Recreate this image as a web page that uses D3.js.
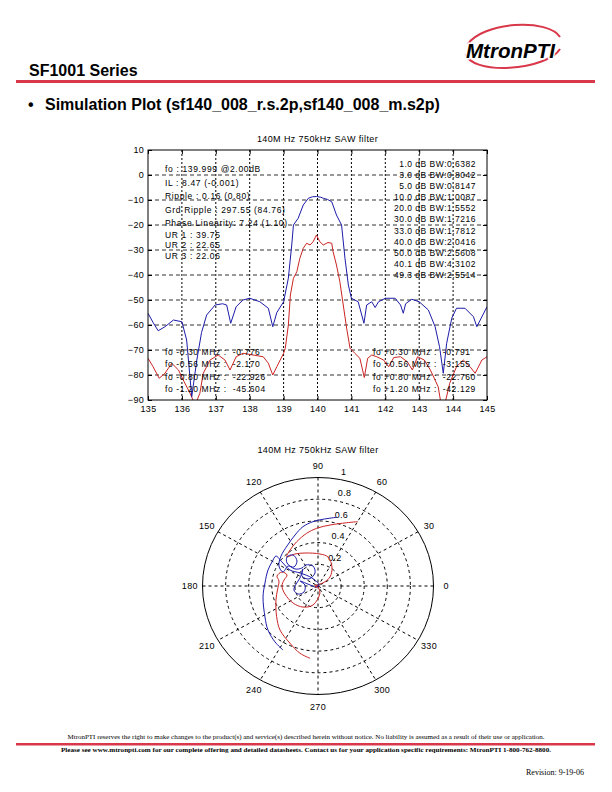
<!DOCTYPE html>
<html>
<head>
<meta charset="utf-8">
<script src="https://cdn.jsdelivr.net/npm/d3@7"></script>
<style>
  body { margin: 0; background: #fff; }
  svg { display: block; }
</style>
</head>
<body>
<script>
// ---- data ----
var freqBlue = [135.0, 135.15, 135.3, 135.5, 135.75, 136.0, 136.14, 136.29, 136.44, 136.58, 136.73, 136.98, 137.2, 137.32, 137.44, 137.6, 137.8, 138.0, 138.3, 138.55, 138.68, 138.8, 139.0, 139.14, 139.24, 139.29, 139.43, 139.58, 139.73, 139.85, 139.97, 140.1, 140.17, 140.3, 140.42, 140.56, 140.71, 140.81, 140.91, 141.0, 141.2, 141.37, 141.45, 141.6, 141.7, 141.8, 142.0, 142.29, 142.45, 142.53, 142.6, 142.78, 143.0, 143.27, 143.47, 143.6, 143.71, 143.81, 143.96, 144.1, 144.35, 144.6, 144.7, 145.0];
var gainBlue = [-55.3, -59, -62.3, -60.7, -58, -58.7, -66, -88.7, -74, -63, -56, -52, -51.5, -52, -59.3, -52.7, -50, -49.3, -50.7, -53.3, -60.7, -55, -50.7, -41.3, -28, -20, -17.3, -12, -9.3, -8.7, -8.6, -8.9, -9.3, -9.8, -10.7, -16, -20, -33.3, -44, -49.3, -50.7, -59.3, -52, -50.7, -53, -50.7, -49.3, -49.3, -52, -55.3, -51.5, -49.7, -50.7, -54, -60.7, -68.7, -79.3, -67.3, -57.3, -53.3, -53.3, -56.7, -60.7, -52.7];

var freqRed = [135.0, 135.15, 135.33, 135.5, 135.7, 135.9, 136.04, 136.24, 136.39, 136.53, 136.63, 136.83, 137.07, 137.27, 137.42, 137.6, 137.8, 138.1, 138.4, 138.55, 138.68, 138.8, 139.0, 139.05, 139.14, 139.2, 139.29, 139.39, 139.48, 139.58, 139.68, 139.78, 139.87, 139.97, 140.07, 140.17, 140.31, 140.42, 140.46, 140.56, 140.66, 140.76, 140.86, 140.96, 141.1, 141.25, 141.38, 141.48, 141.6, 141.75, 141.95, 142.1, 142.25, 142.45, 142.65, 142.8, 142.95, 143.15, 143.33, 143.56, 143.65, 143.75, 143.9, 144.1, 144.3, 144.5, 144.65, 144.85, 145.0];
var gainRed = [-73.3, -76.7, -81.3, -79.3, -75.3, -78, -82, -87.3, -92, -87.3, -79.3, -74, -72, -74, -78, -72.7, -71.3, -72, -72.7, -75.3, -80, -76.7, -71.3, -69.3, -60, -48, -41.3, -38.7, -33.3, -29.3, -27.3, -28, -26.7, -24, -26.7, -28, -27, -27.3, -30.7, -36, -42.7, -52, -61.3, -69.3, -71.3, -73.3, -81, -73.3, -72, -72.7, -74, -76.7, -73, -72.7, -74.7, -78, -72.7, -74, -78, -84.7, -92, -92, -83.3, -76.7, -74, -76.7, -79.3, -74, -72.7];

var xTicks = [135, 136, 137, 138, 139, 140, 141, 142, 143, 144, 145];
var yTicks = [10, 0, -10, -20, -30, -40, -50, -60, -70, -80, -90];

var chartTitle = "140M Hz 750kHz SAW filter";
var leftNotes = ["fo : 139.999 @2.00dB", "IL : 8.47 (-0.001)", "Ripple : 0.16 (0.80)", "Grd Ripple : 297.55 (84.76)", "Phase Linearity: 7.24 (1.10)", "UR 1 : 39.75", "UR 2 : 22.65", "UR 3 : 22.06"];
var bwNotes = ["1.0 dB BW:0.6382", "3.0 dB BW:0.8042", "5.0 dB BW:0.8147", "10.0 dB BW:1.0087", "20.0 dB BW:1.5552", "30.0 dB BW:1.7216", "33.0 dB BW:1.7812", "40.0 dB BW:2.0416", "50.0 dB BW:2.5608", "40.1 dB BW:4.3102", "49.3 dB BW:2.5514"];
var lowNotes = ["fo -0.30 MHz :  -0.776", "fo -0.56 MHz :  -2.170", "fo -0.80 MHz :  -22.926", "fo -1.20 MHz :  -45.604"];
var highNotes = ["fo +0.30 MHz :  -0.791", "fo +0.56 MHz :  -3.155", "fo +0.80 MHz :  -22.760", "fo +1.20 MHz :  -42.129"];

// polar trace values (real / imaginary part of the reflection)
var blueRe = [0.162, 0.043, -0.043, -0.130, -0.199, -0.268, -0.320, -0.338, -0.303, -0.260, -0.208, -0.182, -0.216, -0.268, -0.268, -0.199, -0.139, -0.104, -0.043, -0.026, -0.078, -0.139, -0.130, -0.156, -0.190, -0.208, -0.173, -0.121, -0.113, -0.156, -0.087, -0.017, 0.009, -0.052, -0.156, -0.242, -0.312, -0.364, -0.398, -0.433, -0.459, -0.476, -0.459, -0.433, -0.372, -0.303];
var blueIm = [0.633, 0.615, 0.593, 0.547, 0.470, 0.369, 0.276, 0.184, 0.129, 0.184, 0.175, 0.230, 0.286, 0.267, 0.212, 0.157, 0.166, 0.194, 0.184, 0.120, 0.065, 0.092, 0.157, 0.074, 0.018, -0.037, -0.074, -0.055, 0.009, 0.046, 0.018, -0.009, 0.009, 0.074, 0.120, 0.147, 0.221, 0.276, 0.221, 0.147, 0.028, -0.101, -0.286, -0.406, -0.516, -0.590];
var redRe = [0.344, 0.248, 0.104, -0.011, -0.098, -0.184, -0.242, -0.271, -0.199, -0.113, 0.017, 0.087, 0.121, 0.104, 0.043, 0.000, 0.017, -0.043, -0.130, -0.216, -0.286, -0.312, -0.294, -0.268, -0.312, -0.355, -0.338, -0.351, -0.364, -0.358, -0.329, -0.242, -0.156, -0.069];
var redIm = [0.593, 0.583, 0.562, 0.532, 0.486, 0.408, 0.332, 0.270, 0.295, 0.304, 0.295, 0.267, 0.175, 0.083, 0.028, 0.009, -0.065, -0.175, -0.194, -0.157, -0.074, 0.000, 0.055, 0.101, 0.129, 0.092, 0.046, -0.037, -0.129, -0.283, -0.406, -0.528, -0.620, -0.666];
var markerRe = [0];
var markerIm = [0];

var radiusTicks = [0.2, 0.4, 0.6, 0.8, 1];
var angleTicks = [0, 30, 60, 90, 120, 150, 180, 210, 240, 270, 300, 330];

// ---- page ----
var blueColor = "#1c1caa";
var redColor = "#cc2424";
var pageRed = "#d9384a";
var plotFont = "Arial, 'Liberation Sans', sans-serif";
var serifFont = "'Liberation Serif', 'Times New Roman', serif";

var svg = d3.select("body").append("svg")
    .attr("width", 612)
    .attr("height", 792);

svg.append("rect").attr("width", 612).attr("height", 792).attr("fill", "#fff");

// header
svg.append("text")
    .attr("x", 29).attr("y", 76)
    .attr("font-family", plotFont).attr("font-weight", "bold").attr("font-size", 16)
    .text("SF1001 Series");

svg.append("rect")
    .attr("x", 16).attr("y", 80).attr("width", 579).attr("height", 3)
    .attr("fill", pageRed);

svg.append("text")
    .attr("x", 28).attr("y", 110)
    .attr("font-family", plotFont).attr("font-weight", "bold").attr("font-size", 16)
    .text("\u2022");
svg.append("text")
    .attr("x", 45).attr("y", 110)
    .attr("font-family", plotFont).attr("font-weight", "bold").attr("font-size", 16)
    .text("Simulation Plot (sf140_008_r.s.2p,sf140_008_m.s2p)");

// logo
var logo = svg.append("g");
logo.append("path")
    .attr("d", "M 468 44 A 48 21 -6 0 1 560 37")
    .attr("fill", "none").attr("stroke", pageRed).attr("stroke-width", 2);
logo.append("path")
    .attr("d", "M 466 54 A 48 19 -6 0 0 560 49")
    .attr("fill", "none").attr("stroke", pageRed).attr("stroke-width", 2);
logo.append("text")
    .attr("x", 466).attr("y", 58)
    .attr("font-family", plotFont).attr("font-weight", "bold").attr("font-style", "italic")
    .attr("font-size", 21)
    .attr("textLength", 89).attr("lengthAdjust", "spacingAndGlyphs")
    .attr("stroke", "#fff").attr("stroke-width", 3).attr("paint-order", "stroke")
    .text("MtronPTI");

// ---- magnitude chart ----
var x = d3.scaleLinear().domain([135, 145]).range([148, 487]);
var y = d3.scaleLinear().domain([-90, 10]).range([400, 150]);

var chart = svg.append("g");

svg.append("defs").append("clipPath").attr("id", "plotClip")
    .append("rect")
    .attr("x", x(135)).attr("y", y(10))
    .attr("width", x(145) - x(135)).attr("height", y(-90) - y(10));

chart.append("text")
    .attr("x", (x(135) + x(145)) / 2).attr("y", 142)
    .attr("text-anchor", "middle")
    .attr("font-family", plotFont).attr("font-size", 9).attr("letter-spacing", 0.4)
    .text(chartTitle);

// grid
chart.selectAll(".vgrid").data(xTicks.slice(1, -1)).enter().append("line")
    .attr("x1", function(d) { return x(d); }).attr("x2", function(d) { return x(d); })
    .attr("y1", y(10)).attr("y2", y(-90))
    .attr("stroke", "#000").attr("stroke-width", 1).attr("stroke-dasharray", "2,2");

chart.selectAll(".hgrid").data(yTicks.slice(1, -1)).enter().append("line")
    .attr("x1", x(135)).attr("x2", x(145))
    .attr("y1", function(d) { return y(d); }).attr("y2", function(d) { return y(d); })
    .attr("stroke", "#333").attr("stroke-width", 1).attr("stroke-dasharray", "4,3");

// traces
var magLine = d3.line()
    .x(function(d) { return x(d[0]); })
    .y(function(d) { return y(d[1]); });

chart.append("path")
    .datum(d3.zip(freqRed, gainRed))
    .attr("clip-path", "url(#plotClip)")
    .attr("d", magLine)
    .attr("fill", "none").attr("stroke", redColor).attr("stroke-width", 1);

chart.append("path")
    .datum(d3.zip(freqBlue, gainBlue))
    .attr("clip-path", "url(#plotClip)")
    .attr("d", magLine)
    .attr("fill", "none").attr("stroke", blueColor).attr("stroke-width", 1);

// axes
chart.append("g")
    .attr("transform", "translate(0," + y(-90) + ")")
    .call(d3.axisBottom(x).tickValues(xTicks).tickSizeInner(-4).tickSizeOuter(0).tickPadding(6));
chart.append("g")
    .attr("transform", "translate(" + x(135) + ",0)")
    .call(d3.axisLeft(y).tickValues(yTicks).tickSizeInner(-4).tickSizeOuter(0).tickPadding(4));
chart.append("g")
    .attr("transform", "translate(0," + y(10) + ")")
    .call(d3.axisTop(x).tickValues(xTicks).tickSizeInner(-4).tickSizeOuter(0).tickFormat(""));
chart.append("g")
    .attr("transform", "translate(" + x(145) + ",0)")
    .call(d3.axisRight(y).tickValues(yTicks).tickSizeInner(-4).tickSizeOuter(0).tickFormat(""));

chart.selectAll(".domain").remove();
chart.selectAll(".tick line").attr("stroke", "#000");
chart.selectAll(".tick text")
    .attr("font-family", plotFont).attr("font-size", 9).attr("letter-spacing", 0.3).attr("fill", "#000");

chart.append("rect")
    .attr("x", x(135)).attr("y", y(10))
    .attr("width", x(145) - x(135)).attr("height", y(-90) - y(10))
    .attr("fill", "none").attr("stroke", "#000").attr("stroke-width", 1);

// annotations
var noteSize = 8.5;
var leftY = [169, 183, 196, 210, 223, 235, 245.5, 256];
chart.selectAll(".leftNote").data(leftNotes).enter().append("text")
    .attr("x", 165).attr("y", function(d, i) { return leftY[i]; })
    .attr("dy", "0.35em")
    .attr("font-family", plotFont).attr("font-size", noteSize).attr("letter-spacing", 0.65)
    .text(function(d) { return d; });

chart.selectAll(".bwNote").data(bwNotes).enter().append("text")
    .attr("x", 476).attr("y", function(d, i) { return 164 + i * 11.1; })
    .attr("dy", "0.35em").attr("text-anchor", "end")
    .attr("font-family", plotFont).attr("font-size", noteSize).attr("letter-spacing", 0.5)
    .text(function(d) { return d; });

chart.selectAll(".lowNote").data(lowNotes).enter().append("text")
    .attr("x", 165).attr("y", function(d, i) { return 352 + i * 12.4; })
    .attr("dy", "0.35em").attr("xml:space", "preserve")
    .attr("font-family", plotFont).attr("font-size", noteSize).attr("letter-spacing", 0.6)
    .text(function(d) { return d; });

chart.selectAll(".highNote").data(highNotes).enter().append("text")
    .attr("x", 373).attr("y", function(d, i) { return 352 + i * 12.4; })
    .attr("dy", "0.35em").attr("xml:space", "preserve")
    .attr("font-family", plotFont).attr("font-size", noteSize).attr("letter-spacing", 0.6)
    .text(function(d) { return d; });

// ---- polar chart ----
var pre = d3.scaleLinear().domain([-1, 1]).range([318 - 115.5, 318 + 115.5]);
var pim = d3.scaleLinear().domain([-1, 1]).range([586 + 108.5, 586 - 108.5]);

var polar = svg.append("g");

polar.append("text")
    .attr("x", pre(0)).attr("y", 453)
    .attr("text-anchor", "middle")
    .attr("font-family", plotFont).attr("font-size", 9).attr("letter-spacing", 0.4)
    .text(chartTitle);

polar.selectAll(".spoke").data(angleTicks.slice(0, 6)).enter().append("line")
    .attr("x1", function(d) { return pre(Math.cos(d * Math.PI / 180)); })
    .attr("y1", function(d) { return pim(Math.sin(d * Math.PI / 180)); })
    .attr("x2", function(d) { return pre(-Math.cos(d * Math.PI / 180)); })
    .attr("y2", function(d) { return pim(-Math.sin(d * Math.PI / 180)); })
    .attr("stroke", "#000").attr("stroke-width", 1).attr("stroke-dasharray", "3,3");

polar.selectAll(".ring").data(radiusTicks).enter().append("ellipse")
    .attr("cx", pre(0)).attr("cy", pim(0))
    .attr("rx", function(d) { return pre(d) - pre(0); })
    .attr("ry", function(d) { return pim(0) - pim(d); })
    .attr("fill", "none").attr("stroke", "#000").attr("stroke-width", 1)
    .attr("stroke-dasharray", function(d) { return d === 1 ? null : "3,3"; });

var a82 = 82 * Math.PI / 180;
polar.selectAll(".rlabel").data(radiusTicks).enter().append("text")
    .attr("x", function(d) { return pre(d * Math.cos(a82)) + 7; })
    .attr("y", function(d) { return pim(d * Math.sin(a82)) - 7; })
    .attr("dy", "0.35em")
    .attr("font-family", plotFont).attr("font-size", 9).attr("letter-spacing", 0.3)
    .text(function(d) { return d; });

polar.selectAll(".alabel").data(angleTicks).enter().append("text")
    .attr("x", function(d) { return pre(1.11 * Math.cos(d * Math.PI / 180)); })
    .attr("y", function(d) { return pim(1.11 * Math.sin(d * Math.PI / 180)); })
    .attr("dy", "0.35em").attr("text-anchor", "middle")
    .attr("font-family", plotFont).attr("font-size", 9).attr("letter-spacing", 0.3)
    .text(function(d) { return d; });

var polarLine = d3.line()
    .x(function(d) { return pre(d[0]); })
    .y(function(d) { return pim(d[1]); })
    .curve(d3.curveCatmullRom.alpha(0.5));

polar.append("path")
    .datum(d3.zip(redRe, redIm))
    .attr("d", polarLine)
    .attr("fill", "none").attr("stroke", redColor).attr("stroke-width", 1);

polar.append("path")
    .datum(d3.zip(blueRe, blueIm))
    .attr("d", polarLine)
    .attr("fill", "none").attr("stroke", blueColor).attr("stroke-width", 1);

polar.selectAll(".marker").data(d3.zip(markerRe, markerIm)).enter().append("text")
    .attr("x", function(d) { return pre(d[0]) - 2; })
    .attr("y", function(d) { return pim(d[1]); })
    .attr("dy", "0.6em").attr("text-anchor", "middle")
    .attr("font-family", plotFont).attr("font-size", 10).attr("fill", redColor)
    .text("*");

// ---- footer ----
svg.append("text")
    .attr("x", 306).attr("y", 739).attr("text-anchor", "middle")
    .attr("font-family", serifFont).attr("font-size", 6.6)
    .attr("textLength", 477).attr("lengthAdjust", "spacingAndGlyphs")
    .text("MtronPTI reserves the right to make changes to the product(s) and service(s) described herein without notice. No liability is assumed as a result of their use or application.");

svg.append("rect")
    .attr("x", 16).attr("y", 743).attr("width", 579).attr("height", 2.5)
    .attr("fill", pageRed);

svg.append("text")
    .attr("x", 306).attr("y", 752).attr("text-anchor", "middle")
    .attr("font-family", serifFont).attr("font-weight", "bold").attr("font-size", 7)
    .attr("textLength", 490).attr("lengthAdjust", "spacingAndGlyphs")
    .text("Please see www.mtronpti.com for our complete offering and detailed datasheets. Contact us for your application specific requirements: MtronPTI 1-800-762-8800.");

svg.append("text")
    .attr("x", 584).attr("y", 775).attr("text-anchor", "end")
    .attr("font-family", serifFont).attr("font-size", 8)
    .text("Revision: 9-19-06");
</script>
</body>
</html>
